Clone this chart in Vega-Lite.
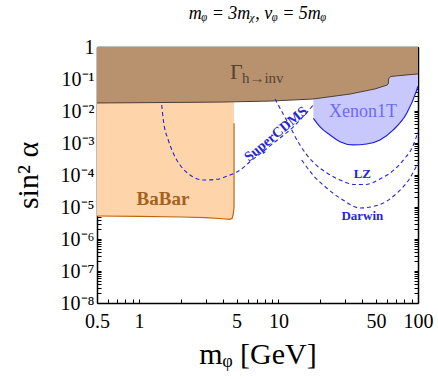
{
  "$schema": "https://vega.github.io/schema/vega-lite/v6.json",
  "width": 321,
  "height": 256,
  "autosize": "none",
  "padding": {"left": 97, "top": 47, "right": 20, "bottom": 76},
  "config": {
    "view": {"stroke": null},
    "font": "Liberation Serif",
    "axis": {"labelFont": "Liberation Serif", "labelFontSize": 20, "labelColor": "black", "titleFont": "Liberation Serif", "titleColor": "black", "titleFontWeight": "normal", "grid": false, "tickColor": "black", "domainColor": "black"}
  },
  "title": {"text": "mᵩ = 3mᵪ,  vᵩ = 5mᵩ", "font": "Liberation Serif", "fontStyle": "italic", "fontSize": 18, "fontWeight": "normal", "anchor": "middle", "offset": 14, "color": "black"},
  "datasets": {
    "babar": [
      {"i": 1, "x": 0.5, "y": 5.23e-6}, {"i": 2, "x": 1, "y": 5.1e-6}, {"i": 3, "x": 2, "y": 4.87e-6},
      {"i": 4, "x": 3, "y": 4.63e-6}, {"i": 5, "x": 4, "y": 4.3e-6}, {"i": 6, "x": 4.45, "y": 4.13e-6},
      {"i": 7, "x": 4.65, "y": 4.4e-6}, {"i": 8, "x": 4.74, "y": 6e-6}, {"i": 9, "x": 4.8, "y": 1e-5},
      {"i": 10, "x": 4.8, "y": 4.13e-3}
    ],
    "brown": [
      {"x": 0.5, "y": 0.0178}, {"x": 2, "y": 0.0186}, {"x": 3.81, "y": 0.019}, {"x": 8.7, "y": 0.0204},
      {"x": 17.7, "y": 0.0237}, {"x": 32.6, "y": 0.0339}, {"x": 49.2, "y": 0.049}, {"x": 60, "y": 0.0646},
      {"x": 61.2, "y": 0.0698}, {"x": 61.6, "y": 0.1}, {"x": 62.5, "y": 0.112}, {"x": 64, "y": 0.12},
      {"x": 70, "y": 0.125}, {"x": 100, "y": 0.144}
    ],
    "xenon": [
      {"x": 17.77, "y": 5.9e-3}, {"x": 19.85, "y": 3.2e-3}, {"x": 23.4, "y": 1.78e-3}, {"x": 27.6, "y": 1.1e-3},
      {"x": 34.4, "y": 8.7e-4}, {"x": 42.9, "y": 9.3e-4}, {"x": 53.4, "y": 1.24e-3}, {"x": 66.5, "y": 2.57e-3},
      {"x": 83, "y": 8.5e-3}, {"x": 97.9, "y": 4.5e-2}, {"x": 100, "y": 0.06}
    ],
    "cdms": [
      {"x": 1.455, "y": 0.0154}, {"x": 1.494, "y": 5.23e-3}, {"x": 1.622, "y": 1.24e-3}, {"x": 1.762, "y": 4.76e-4},
      {"x": 1.968, "y": 2.05e-4}, {"x": 2.322, "y": 1e-4}, {"x": 2.891, "y": 6.98e-5}, {"x": 3.607, "y": 7.34e-5},
      {"x": 4.491, "y": 1e-4}, {"x": 5.298, "y": 1.43e-4}, {"x": 6.25, "y": 2.6e-4}, {"x": 9.18, "y": 9.8e-4},
      {"x": 12.77, "y": 3.2e-3}, {"x": 17.77, "y": 0.0154}
    ],
    "lz": [
      {"x": 9.44, "y": 0.0237}, {"x": 11.51, "y": 4.87e-3}, {"x": 14.26, "y": 8.66e-4}, {"x": 17.67, "y": 2.55e-4},
      {"x": 22.28, "y": 1.155e-4}, {"x": 27.6, "y": 6.98e-5}, {"x": 35.3, "y": 5.05e-5}, {"x": 41.7, "y": 5.05e-5},
      {"x": 53.4, "y": 7.5e-5}, {"x": 68.4, "y": 1.54e-4}, {"x": 80.7, "y": 3.4e-4}, {"x": 90.6, "y": 6.98e-4},
      {"x": 100, "y": 2.21e-3}
    ],
    "darwin": [
      {"x": 14.67, "y": 2.94e-4}, {"x": 17.67, "y": 1e-4}, {"x": 22.16, "y": 3.92e-5}, {"x": 29.0, "y": 1.65e-5},
      {"x": 38.4, "y": 9.3e-6}, {"x": 53.4, "y": 1.2e-5}, {"x": 70.7, "y": 2.74e-5}, {"x": 87.6, "y": 8.06e-5},
      {"x": 100, "y": 2.37e-4}
    ]
  },
  "layer": [
    {
      "layer": [
        {
          "data": {"name": "babar"},
          "transform": [{"filter": "datum.i < 10"}],
          "mark": {"type": "area", "color": "#FED5AA", "opacity": 1},
          "encoding": {
            "x": {"field": "x", "type": "quantitative",
              "scale": {"type": "log", "domain": [0.5, 100], "nice": false},
              "axis": {"orient": "bottom",
                "values": [0.5, 0.6, 0.7, 0.8, 0.9, 1, 2, 3, 4, 5, 6, 7, 8, 9, 10, 20, 30, 40, 50, 60, 70, 80, 90, 100],
                "labelExpr": "indexof([0.5,1,5,10,50,100], datum.value) >= 0 ? format(datum.value, '~g') : ''",
                "labelOverlap": false, "labelFlush": false, "grid": false,
                "tickSize": -4, "tickColor": "black", "tickWidth": 1,
                "domainColor": "black", "domainWidth": 1.5,
                "labelFont": "Liberation Serif", "labelFontSize": 20, "labelColor": "black", "labelPadding": 12,
                "title": "mᵩ [GeV]", "titleFont": "Liberation Serif", "titleFontSize": 30, "titleFontWeight": "normal",
                "titleColor": "black", "titleX": 160.5, "titleY": 60, "titleBaseline": "alphabetic", "titleAlign": "center"}},
            "y": {"field": "y", "type": "quantitative",
              "scale": {"type": "log", "domain": [1e-8, 1], "nice": false},
              "axis": {"orient": "left",
                "values": [1e-8, 2e-8, 3e-8, 4e-8, 5e-8, 6e-8, 7e-8, 8e-8, 9e-8,
                  1e-7, 2e-7, 3e-7, 4e-7, 5e-7, 6e-7, 7e-7, 8e-7, 9e-7,
                  1e-6, 2e-6, 3e-6, 4e-6, 5e-6, 6e-6, 7e-6, 8e-6, 9e-6,
                  1e-5, 2e-5, 3e-5, 4e-5, 5e-5, 6e-5, 7e-5, 8e-5, 9e-5,
                  1e-4, 2e-4, 3e-4, 4e-4, 5e-4, 6e-4, 7e-4, 8e-4, 9e-4,
                  1e-3, 2e-3, 3e-3, 4e-3, 5e-3, 6e-3, 7e-3, 8e-3, 9e-3,
                  1e-2, 2e-2, 3e-2, 4e-2, 5e-2, 6e-2, 7e-2, 8e-2, 9e-2,
                  0.1, 0.2, 0.3, 0.4, 0.5, 0.6, 0.7, 0.8, 0.9, 1],
                "labelExpr": "abs(log(datum.value)/LN10 - round(log(datum.value)/LN10)) < 0.001 ? (datum.value > 0.5 ? '1' : '10' + ['⁻⁸','⁻⁷','⁻⁶','⁻⁵','⁻⁴','⁻³','⁻²','⁻¹'][round(log(datum.value)/LN10) + 8]) : ''",
                "labelOverlap": false, "labelFlush": false, "grid": false,
                "tickSize": -4, "tickColor": "black", "tickWidth": 1,
                "domainColor": "black", "domainWidth": 1.5,
                "labelFont": "Liberation Serif", "labelFontSize": 20, "labelColor": "black", "labelPadding": 7,
                "title": "sin² α", "titleFont": "Liberation Serif", "titleFontSize": 30, "titleFontWeight": "normal",
                "titleColor": "black", "titleX": -60, "titleY": 128, "titleBaseline": "alphabetic", "titleAlign": "center", "titleAngle": -90}},
            "y2": {"datum": 1}
          }
        },
        {
          "data": {"name": "xenon"},
          "mark": {"type": "area", "color": "#C8C8FC", "opacity": 1, "interpolate": "monotone"},
          "encoding": {"x": {"field": "x", "type": "quantitative"}, "y": {"field": "y", "type": "quantitative"}, "y2": {"datum": 1}}
        },
        {
          "data": {"name": "brown"},
          "mark": {"type": "area", "color": "#B8926F", "opacity": 1},
          "encoding": {"x": {"field": "x", "type": "quantitative"}, "y": {"field": "y", "type": "quantitative"}, "y2": {"datum": 1}}
        },
        {
          "data": {"name": "brown"},
          "mark": {"type": "line", "color": "#4E3E30", "strokeWidth": 1},
          "encoding": {"x": {"field": "x", "type": "quantitative"}, "y": {"field": "y", "type": "quantitative"}}
        },
        {
          "data": {"name": "babar"},
          "mark": {"type": "line", "color": "#C0650F", "strokeWidth": 1.2},
          "encoding": {"x": {"field": "x", "type": "quantitative"}, "y": {"field": "y", "type": "quantitative"}, "order": {"field": "i"}}
        },
        {
          "data": {"name": "xenon"},
          "mark": {"type": "line", "color": "#1F1FE0", "strokeWidth": 1.2, "interpolate": "monotone"},
          "encoding": {"x": {"field": "x", "type": "quantitative"}, "y": {"field": "y", "type": "quantitative"}}
        },
        {
          "data": {"name": "cdms"},
          "mark": {"type": "line", "color": "#2323D8", "strokeWidth": 1.1, "strokeDash": [4, 3], "interpolate": "monotone"},
          "encoding": {"x": {"field": "x", "type": "quantitative"}, "y": {"field": "y", "type": "quantitative"}}
        },
        {
          "data": {"name": "lz"},
          "mark": {"type": "line", "color": "#2323D8", "strokeWidth": 1.1, "strokeDash": [4, 3], "interpolate": "monotone"},
          "encoding": {"x": {"field": "x", "type": "quantitative"}, "y": {"field": "y", "type": "quantitative"}}
        },
        {
          "data": {"name": "darwin"},
          "mark": {"type": "line", "color": "#2323D8", "strokeWidth": 1.1, "strokeDash": [4, 3], "interpolate": "monotone"},
          "encoding": {"x": {"field": "x", "type": "quantitative"}, "y": {"field": "y", "type": "quantitative"}}
        },
        {
          "data": {"values": [{"x": 4.49, "y": 0.1, "text": "Γ"}]},
          "mark": {"type": "text", "font": "Liberation Serif", "fontSize": 22, "color": "#56432F", "align": "left", "baseline": "alphabetic"},
          "encoding": {"x": {"field": "x", "type": "quantitative"}, "y": {"field": "y", "type": "quantitative"}, "text": {"field": "text"}}
        },
        {
          "data": {"values": [{"x": 5.47, "y": 0.075, "text": "h→inv"}]},
          "mark": {"type": "text", "font": "Liberation Serif", "fontSize": 15, "color": "#56432F", "align": "left", "baseline": "alphabetic"},
          "encoding": {"x": {"field": "x", "type": "quantitative"}, "y": {"field": "y", "type": "quantitative"}, "text": {"field": "text"}}
        },
        {
          "data": {"values": [{"x": 40.4, "y": 6.5e-3, "text": "Xenon1T"}]},
          "mark": {"type": "text", "font": "Liberation Serif", "fontSize": 18, "color": "#6C6CEE", "align": "center", "baseline": "alphabetic"},
          "encoding": {"x": {"field": "x", "type": "quantitative"}, "y": {"field": "y", "type": "quantitative"}, "text": {"field": "text"}}
        },
        {
          "data": {"values": [{"x": 39.9, "y": 8.1e-5, "text": "LZ"}, {"x": 39.9, "y": 3.9e-6, "text": "Darwin"}]},
          "mark": {"type": "text", "font": "Liberation Serif", "fontSize": 13, "fontWeight": "bold", "color": "#2626D4", "align": "center", "baseline": "alphabetic"},
          "encoding": {"x": {"field": "x", "type": "quantitative"}, "y": {"field": "y", "type": "quantitative"}, "text": {"field": "text"}}
        },
        {
          "data": {"values": [{"x": 9.6, "y": 1.9e-3, "text": "SuperCDMS"}]},
          "mark": {"type": "text", "font": "Liberation Serif", "fontSize": 14, "fontWeight": "bold", "color": "#2626D4", "align": "center", "baseline": "middle", "angle": -40},
          "encoding": {"x": {"field": "x", "type": "quantitative"}, "y": {"field": "y", "type": "quantitative"}, "text": {"field": "text"}}
        },
        {
          "data": {"values": [{"x": 1.486, "y": 1.15e-5, "text": "BaBar"}]},
          "mark": {"type": "text", "font": "Liberation Serif", "fontSize": 19, "fontWeight": "bold", "color": "#A5621F", "align": "center", "baseline": "alphabetic"},
          "encoding": {"x": {"field": "x", "type": "quantitative"}, "y": {"field": "y", "type": "quantitative"}, "text": {"field": "text"}}
        }
      ]
    },
    {
      "data": {"values": [{"x": 0.5, "y": 1e-8}]},
      "mark": {"type": "point", "opacity": 0},
      "encoding": {
        "x": {"field": "x", "type": "quantitative",
          "axis": {"orient": "top", "labels": false, "title": null, "grid": false,
            "values": [0.5, 0.6, 0.7, 0.8, 0.9, 1, 2, 3, 4, 5, 6, 7, 8, 9, 10, 20, 30, 40, 50, 60, 70, 80, 90, 100],
            "tickSize": -4, "tickColor": "black", "tickWidth": 1, "domainColor": "black", "domainWidth": 1.5}},
        "y": {"field": "y", "type": "quantitative",
          "axis": {"orient": "right", "labels": false, "title": null, "grid": false,
            "values": [1e-8, 2e-8, 3e-8, 4e-8, 5e-8, 6e-8, 7e-8, 8e-8, 9e-8,
              1e-7, 2e-7, 3e-7, 4e-7, 5e-7, 6e-7, 7e-7, 8e-7, 9e-7,
              1e-6, 2e-6, 3e-6, 4e-6, 5e-6, 6e-6, 7e-6, 8e-6, 9e-6,
              1e-5, 2e-5, 3e-5, 4e-5, 5e-5, 6e-5, 7e-5, 8e-5, 9e-5,
              1e-4, 2e-4, 3e-4, 4e-4, 5e-4, 6e-4, 7e-4, 8e-4, 9e-4,
              1e-3, 2e-3, 3e-3, 4e-3, 5e-3, 6e-3, 7e-3, 8e-3, 9e-3,
              1e-2, 2e-2, 3e-2, 4e-2, 5e-2, 6e-2, 7e-2, 8e-2, 9e-2,
              0.1, 0.2, 0.3, 0.4, 0.5, 0.6, 0.7, 0.8, 0.9, 1],
            "tickSize": -4, "tickColor": "black", "tickWidth": 1, "domainColor": "black", "domainWidth": 1.5}}
      }
    }
  ],
  "resolve": {"axis": {"x": "independent", "y": "independent"}}
}
